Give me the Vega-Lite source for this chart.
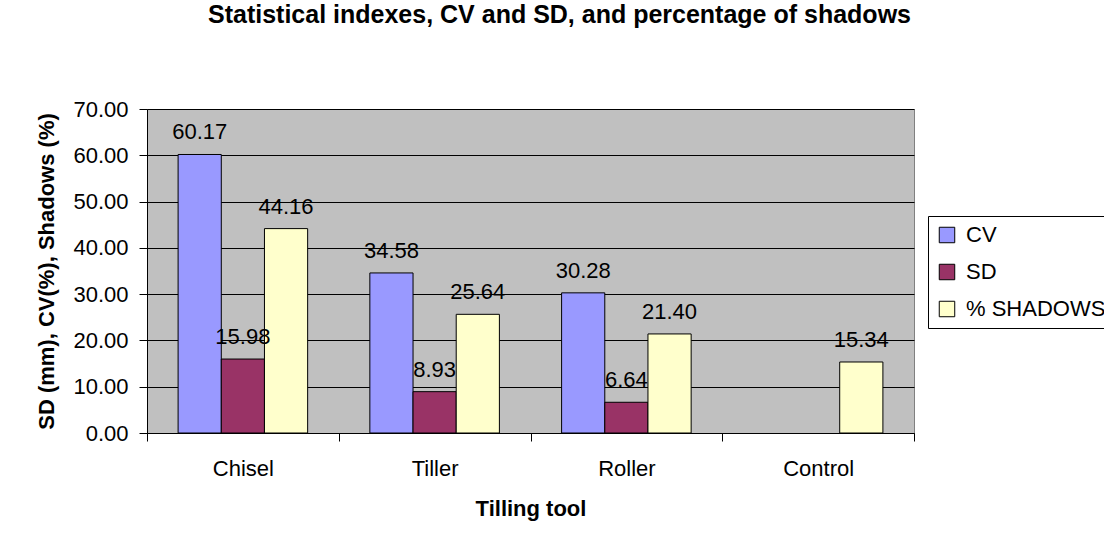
{
  "$schema": "https://vega.github.io/schema/vega-lite/v6.json",
  "autosize": "none",
  "width": 767,
  "height": 324,
  "padding": {"left": 147, "top": 109, "right": 190, "bottom": 111},
  "background": "white",
  "title": {
    "text": "Statistical indexes, CV and SD, and percentage of shadows",
    "font": "Liberation Sans",
    "fontSize": 25,
    "fontWeight": "bold",
    "color": "black",
    "anchor": "middle",
    "frame": "group",
    "dx": 29,
    "baseline": "alphabetic",
    "offset": 50
  },
  "config": {
    "font": "Liberation Sans",
    "view": {"stroke": "#808080", "strokeWidth": 1, "fill": "#C0C0C0"},
    "axis": {
      "labelFont": "Liberation Sans",
      "titleFont": "Liberation Sans",
      "labelColor": "black",
      "titleColor": "black",
      "domainColor": "black",
      "tickColor": "black",
      "labelFontSize": 22,
      "titleFontSize": 22,
      "titleFontWeight": "bold"
    }
  },
  "data": {
    "values": [
      {"tool": "Chisel", "series": "CV", "value": 60.17},
      {"tool": "Chisel", "series": "SD", "value": 15.98},
      {"tool": "Chisel", "series": "% SHADOWS", "value": 44.16},
      {"tool": "Tiller", "series": "CV", "value": 34.58},
      {"tool": "Tiller", "series": "SD", "value": 8.93},
      {"tool": "Tiller", "series": "% SHADOWS", "value": 25.64},
      {"tool": "Roller", "series": "CV", "value": 30.28},
      {"tool": "Roller", "series": "SD", "value": 6.64},
      {"tool": "Roller", "series": "% SHADOWS", "value": 21.40},
      {"tool": "Control", "series": "% SHADOWS", "value": 15.34}
    ]
  },
  "encoding": {
    "x": {
      "field": "tool",
      "type": "nominal",
      "sort": ["Chisel", "Tiller", "Roller", "Control"],
      "scale": {"domain": ["Chisel", "Tiller", "Roller", "Control"], "paddingInner": 0, "paddingOuter": 0},
      "axis": {
        "title": "Tilling tool",
        "labelAngle": 0,
        "tickBand": "extent",
        "tickSize": 8,
        "labelPadding": 17,
        "titlePadding": 19,
        "grid": false
      }
    },
    "xOffset": {
      "field": "series",
      "type": "nominal",
      "scale": {"domain": ["CV", "SD", "% SHADOWS"], "paddingInner": 0, "paddingOuter": 0.72}
    },
    "y": {
      "field": "value",
      "type": "quantitative",
      "scale": {"domain": [0, 70], "nice": false},
      "axis": {
        "title": "SD (mm), CV(%), Shadows (%)",
        "values": [0, 10, 20, 30, 40, 50, 60, 70],
        "format": ".2f",
        "grid": true,
        "gridColor": "black",
        "gridWidth": 1,
        "gridOpacity": 1,
        "tickSize": 8,
        "labelPadding": 11,
        "titlePadding": 14
      }
    }
  },
  "layer": [
    {
      "mark": {"type": "bar", "stroke": "black", "strokeWidth": 1},
      "encoding": {
        "color": {
          "field": "series",
          "type": "nominal",
          "scale": {"domain": ["CV", "SD", "% SHADOWS"], "range": ["#9999FF", "#993366", "#FFFFCC"]},
          "legend": {
            "title": null,
            "orient": "none",
            "legendX": 781,
            "legendY": 107,
            "padding": 8,
            "strokeColor": "black",
            "fillColor": "white",
            "symbolType": "square",
            "symbolSize": 240,
            "symbolStrokeColor": "black",
            "symbolStrokeWidth": 1,
            "symbolOpacity": 1,
            "labelFont": "Liberation Sans",
            "labelFontSize": 22,
            "labelColor": "black",
            "labelOffset": 8,
            "rowPadding": 15
          }
        }
      }
    },
    {
      "mark": {"type": "text", "baseline": "alphabetic", "align": "center", "dy": -15, "font": "Liberation Sans", "fontSize": 22, "color": "black"},
      "encoding": {
        "text": {"field": "value", "type": "quantitative", "format": ".2f"}
      }
    }
  ]
}
